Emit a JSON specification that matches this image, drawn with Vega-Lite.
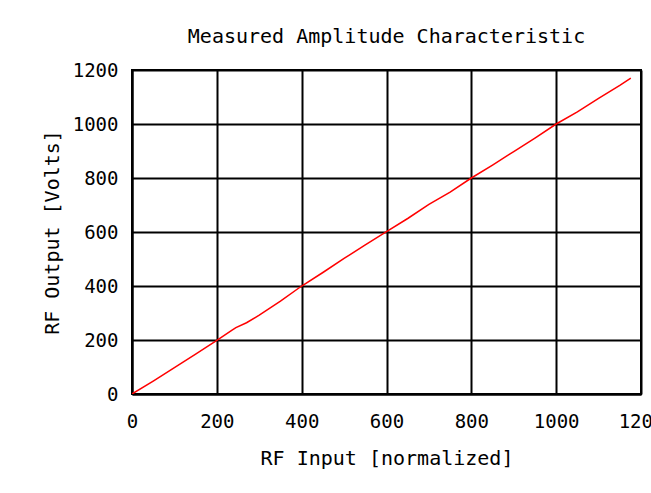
{
  "$schema": "https://vega.github.io/schema/vega-lite/v6.json",
  "autosize": "none",
  "width": 509,
  "height": 324,
  "padding": {"left": 132, "top": 70, "right": 10, "bottom": 99},
  "background": "white",
  "title": {
    "text": "Measured Amplitude Characteristic",
    "font": "DejaVu Sans Mono",
    "fontSize": 20,
    "fontWeight": "normal",
    "color": "black",
    "frame": "group",
    "anchor": "middle",
    "offset": 14
  },
  "data": {
    "values": [
      {"input": 0, "output": 0},
      {"input": 50, "output": 48},
      {"input": 100, "output": 98},
      {"input": 150, "output": 148},
      {"input": 200, "output": 199},
      {"input": 235, "output": 236},
      {"input": 245, "output": 246},
      {"input": 270, "output": 264},
      {"input": 300, "output": 292},
      {"input": 350, "output": 344},
      {"input": 400, "output": 400},
      {"input": 450, "output": 450},
      {"input": 500, "output": 502},
      {"input": 550, "output": 552},
      {"input": 600, "output": 601},
      {"input": 650, "output": 650},
      {"input": 700, "output": 702},
      {"input": 750, "output": 748},
      {"input": 800, "output": 800},
      {"input": 850, "output": 848},
      {"input": 900, "output": 898},
      {"input": 950, "output": 948},
      {"input": 1000, "output": 1000},
      {"input": 1050, "output": 1045},
      {"input": 1100, "output": 1095},
      {"input": 1150, "output": 1143},
      {"input": 1176, "output": 1170}
    ]
  },
  "mark": {"type": "line", "color": "#ff0000", "strokeWidth": 1.5, "clip": true},
  "encoding": {
    "x": {
      "field": "input",
      "type": "quantitative",
      "scale": {"domain": [0, 1200], "nice": false, "zero": true},
      "axis": {
        "title": "RF Input [normalized]",
        "format": "d",
        "values": [0, 200, 400, 600, 800, 1000, 1200],
        "labelPadding": 18,
        "titlePadding": 17
      }
    },
    "y": {
      "field": "output",
      "type": "quantitative",
      "scale": {"domain": [0, 1200], "nice": false, "zero": true},
      "axis": {
        "title": "RF Output [Volts]",
        "format": "d",
        "values": [0, 200, 400, 600, 800, 1000, 1200],
        "labelPadding": 14,
        "titlePadding": 10
      }
    }
  },
  "config": {
    "view": {"stroke": "black", "strokeWidth": 2},
    "axis": {
      "grid": true,
      "gridColor": "black",
      "gridOpacity": 1,
      "gridWidth": 2,
      "domainColor": "black",
      "domainWidth": 2,
      "ticks": false,
      "labelFont": "DejaVu Sans Mono",
      "labelFontSize": 19,
      "labelColor": "black",
      "labelOverlap": false,
      "labelFlush": false,
      "titleFont": "DejaVu Sans Mono",
      "titleFontSize": 20,
      "titleFontWeight": "normal",
      "titleColor": "black"
    }
  }
}
